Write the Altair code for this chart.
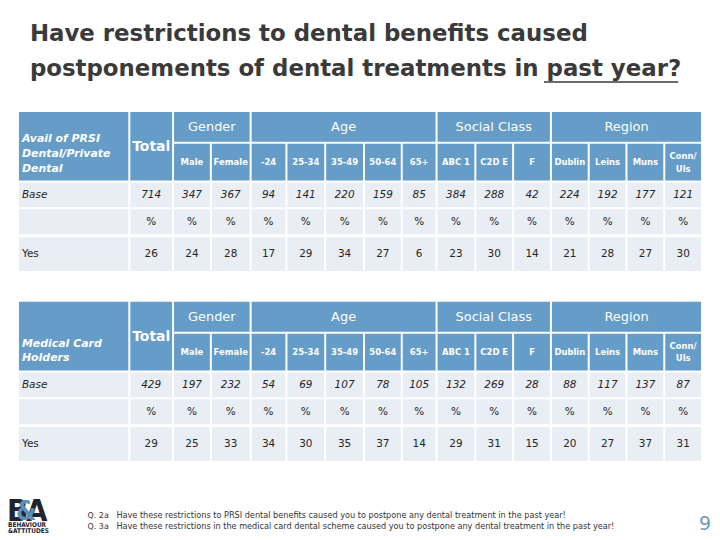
import altair as alt
import pandas as pd

# ---------------- data ----------------
columns = ["Total", "Male", "Female", "-24", "25-34", "35-49", "50-64", "65+",
           "ABC 1", "C2D E", "F", "Dublin", "Leins", "Muns", "Conn/\nUls"]
group_names = ["Gender", "Age", "Social Class", "Region"]
group_first = [1, 3, 8, 11]
group_last = [2, 7, 10, 14]

table_titles = ["Avail of PRSI\nDental/Private\nDental", "Medical Card\nHolders"]
row_labels = ["Base", "", "Yes"]

base_prsi = [714, 347, 367, 94, 141, 220, 159, 85, 384, 288, 42, 224, 192, 177, 121]
yes_prsi = [26, 24, 28, 17, 29, 34, 27, 6, 23, 30, 14, 21, 28, 27, 30]
base_med = [429, 197, 232, 54, 69, 107, 78, 105, 132, 269, 28, 88, 117, 137, 87]
yes_med = [29, 25, 33, 34, 30, 35, 37, 14, 29, 31, 15, 20, 27, 37, 31]

title_line1 = "Have restrictions to dental benefits caused"
title_line2 = "postponements of dental treatments in "
title_underlined = "past year?"
notes_q = ["Q. 2a", "Q. 3a"]
notes_text = [
    "Have these restrictions to PRSI dental benefits caused you to postpone any dental treatment in the past year!",
    "Have these restrictions in the medical card dental scheme caused you to postpone any dental treatment in the past year!",
]
page_number = "9"

# ---------------- layout (page pixels) ----------------
W, H = 708, 527
col_left = [131, 175, 213, 253, 289, 328, 367, 405, 440, 479, 517, 555, 593, 631, 669]
col_right = [173, 211, 251, 287, 326, 365, 403, 438, 477, 515, 553, 591, 629, 667, 705]
label_left, label_right = 19, 129
table_offsets = [0, 191]
grp_row = (111, 141)
hdr_row = (143, 180)
data_rows = [(182, 207), (209, 234), (237, 271)]
label_lh = 15
hdr_lh = 13

HEADER = "#659cc8"
CELL = "#e9edf4"
INK = "#262626"
FONT = "DejaVu Sans"

tables = [(base_prsi, yes_prsi), (base_med, yes_med)]

rects, grp_txt, total_txt, hdr_txt, lab_txt = [], [], [], [], []
base_txt, pct_txt, yes_txt, rowlab_it, rowlab_n = [], [], [], [], []

for t, off in enumerate(table_offsets):
    base_vals, yes_vals = tables[t]
    n_lines = len(table_titles[t].split("\n"))
    rects.append(dict(x=label_left, x2=label_right, y=grp_row[0] + off, y2=hdr_row[1] + off, k="h"))
    # first line position so the last line sits near the bottom of the header block
    lab_txt.append(dict(x=label_left + 3, y=hdr_row[1] + off - 12 - (n_lines - 1) * label_lh,
                        text=table_titles[t]))
    rects.append(dict(x=col_left[0], x2=col_right[0], y=grp_row[0] + off, y2=hdr_row[1] + off, k="h"))
    total_txt.append(dict(x=(col_left[0] + col_right[0]) / 2, y=grp_row[0] + off + 35, text=columns[0]))
    for g, name in enumerate(group_names):
        a, b = col_left[group_first[g]], col_right[group_last[g]]
        rects.append(dict(x=a, x2=b, y=grp_row[0] + off, y2=grp_row[1] + off, k="h"))
        grp_txt.append(dict(x=(a + b) / 2, y=(grp_row[0] + grp_row[1]) / 2 + off, text=name))
    for c in range(1, len(columns)):
        rects.append(dict(x=col_left[c], x2=col_right[c], y=hdr_row[0] + off, y2=hdr_row[1] + off, k="h"))
        nl = len(columns[c].split("\n"))
        hdr_txt.append(dict(x=(col_left[c] + col_right[c]) / 2,
                            y=(hdr_row[0] + hdr_row[1]) / 2 + off - (nl - 1) * hdr_lh / 2,
                            text=columns[c]))
    for r, (y0, y1) in enumerate(data_rows):
        yc = (y0 + y1) / 2 + off
        rects.append(dict(x=label_left, x2=label_right, y=y0 + off, y2=y1 + off, k="c"))
        if row_labels[r] == "Base":
            rowlab_it.append(dict(x=label_left + 3, y=yc, text=row_labels[r]))
        elif row_labels[r]:
            rowlab_n.append(dict(x=label_left + 3, y=yc, text=row_labels[r]))
        for c in range(len(columns)):
            rects.append(dict(x=col_left[c], x2=col_right[c], y=y0 + off, y2=y1 + off, k="c"))
            xc = (col_left[c] + col_right[c]) / 2
            if r == 0:
                base_txt.append(dict(x=xc, y=yc, text=str(base_vals[c])))
            elif r == 1:
                pct_txt.append(dict(x=xc, y=yc, text="%"))
            else:
                yes_txt.append(dict(x=xc, y=yc, text=str(yes_vals[c])))

X = alt.X("x:Q", scale=alt.Scale(domain=[8, 8 + W], nice=False, zero=False), axis=None)
Y = alt.Y("y:Q", scale=alt.Scale(domain=[8, 8 + H], nice=False, zero=False, reverse=True), axis=None)
X2 = alt.X2("x2:Q")
Y2 = alt.Y2("y2:Q")


def txt(rows, **kw):
    return alt.Chart(pd.DataFrame(rows)).mark_text(**kw).encode(x=X, y=Y, text="text:N")


rect_layer = alt.Chart(pd.DataFrame(rects)).mark_rect().encode(
    x=X, x2=X2, y=Y, y2=Y2,
    color=alt.Color("k:N", scale=alt.Scale(domain=["h", "c"], range=[HEADER, CELL]), legend=None),
)

layers = [rect_layer]
layers.append(txt(grp_txt, font=FONT, fontSize=13, color="white", baseline="middle", align="center"))
layers.append(txt(total_txt, font=FONT, fontSize=14, fontWeight="bold", color="white", baseline="middle", align="center"))
layers.append(txt(hdr_txt, font=FONT, fontSize=8.5, fontWeight="bold", color="white", baseline="middle",
                  align="center", lineBreak="\n", lineHeight=hdr_lh))
layers.append(txt(lab_txt, font=FONT, fontSize=11, fontWeight="bold", fontStyle="italic", color="white",
                  baseline="middle", align="left", lineBreak="\n", lineHeight=label_lh))
layers.append(txt(base_txt, font=FONT, fontSize=10.5, fontStyle="italic", color=INK, baseline="middle", align="center"))
layers.append(txt(pct_txt, font=FONT, fontSize=10.5, color=INK, baseline="middle", align="center"))
layers.append(txt(yes_txt, font=FONT, fontSize=10.5, color=INK, baseline="middle", align="center"))
layers.append(txt(rowlab_it, font=FONT, fontSize=10.5, fontStyle="italic", color=INK, baseline="middle", align="left"))
layers.append(txt(rowlab_n, font=FONT, fontSize=10.5, color=INK, baseline="middle", align="left"))

# title
layers.append(txt([dict(x=30, y=40, text=title_line1), dict(x=30, y=75, text=title_line2 + title_underlined)],
                  font="DejaVu Sans", fontSize=23, fontWeight="bold", color="#3a3a3a",
                  baseline="alphabetic", align="left"))
layers.append(alt.Chart(pd.DataFrame([dict(x=547, x2=682, y=81)])).mark_rule(color="#3a3a3a", strokeWidth=1.5)
              .encode(x=X, x2=X2, y=Y))

# footnotes
layers.append(txt([dict(x=88, y=517, text=notes_q[0]), dict(x=88, y=528, text=notes_q[1])],
                  font="DejaVu Sans", fontSize=8, color="#333333", baseline="middle", align="left"))
layers.append(txt([dict(x=117, y=517, text=notes_text[0]), dict(x=117, y=528, text=notes_text[1])],
                  font="DejaVu Sans", fontSize=8.2, color="#333333", baseline="middle", align="left"))
layers.append(txt([dict(x=709, y=525, text=page_number)], font="DejaVu Sans", fontSize=19,
                  color="#6f97ba", baseline="middle", align="center"))

# logo
layers.append(txt([dict(x=7, y=522, text="B"), dict(x=26, y=522, text="A")], font="DejaVu Sans Condensed",
                  fontSize=31, fontWeight="bold", color="#23232b", baseline="alphabetic", align="left"))
layers.append(txt([dict(x=16, y=521, text="&")], font="DejaVu Sans Condensed", fontSize=26,
                  fontWeight="bold", color="#5b8fb8", baseline="alphabetic", align="left"))
layers.append(txt([dict(x=8, y=526, text="BEHAVIOUR"), dict(x=8, y=532, text="&ATTITUDES")],
                  font="DejaVu Sans Condensed", fontSize=6.5, fontWeight="bold", color="#23232b",
                  baseline="middle", align="left"))

chart = alt.layer(*layers).properties(
    width=W, height=H, padding=0, autosize=alt.AutoSizeParams(type="none"), background="white"
).configure_view(strokeWidth=0)

chart.save("out.html", embed_options={"renderer": "svg", "actions": False})
